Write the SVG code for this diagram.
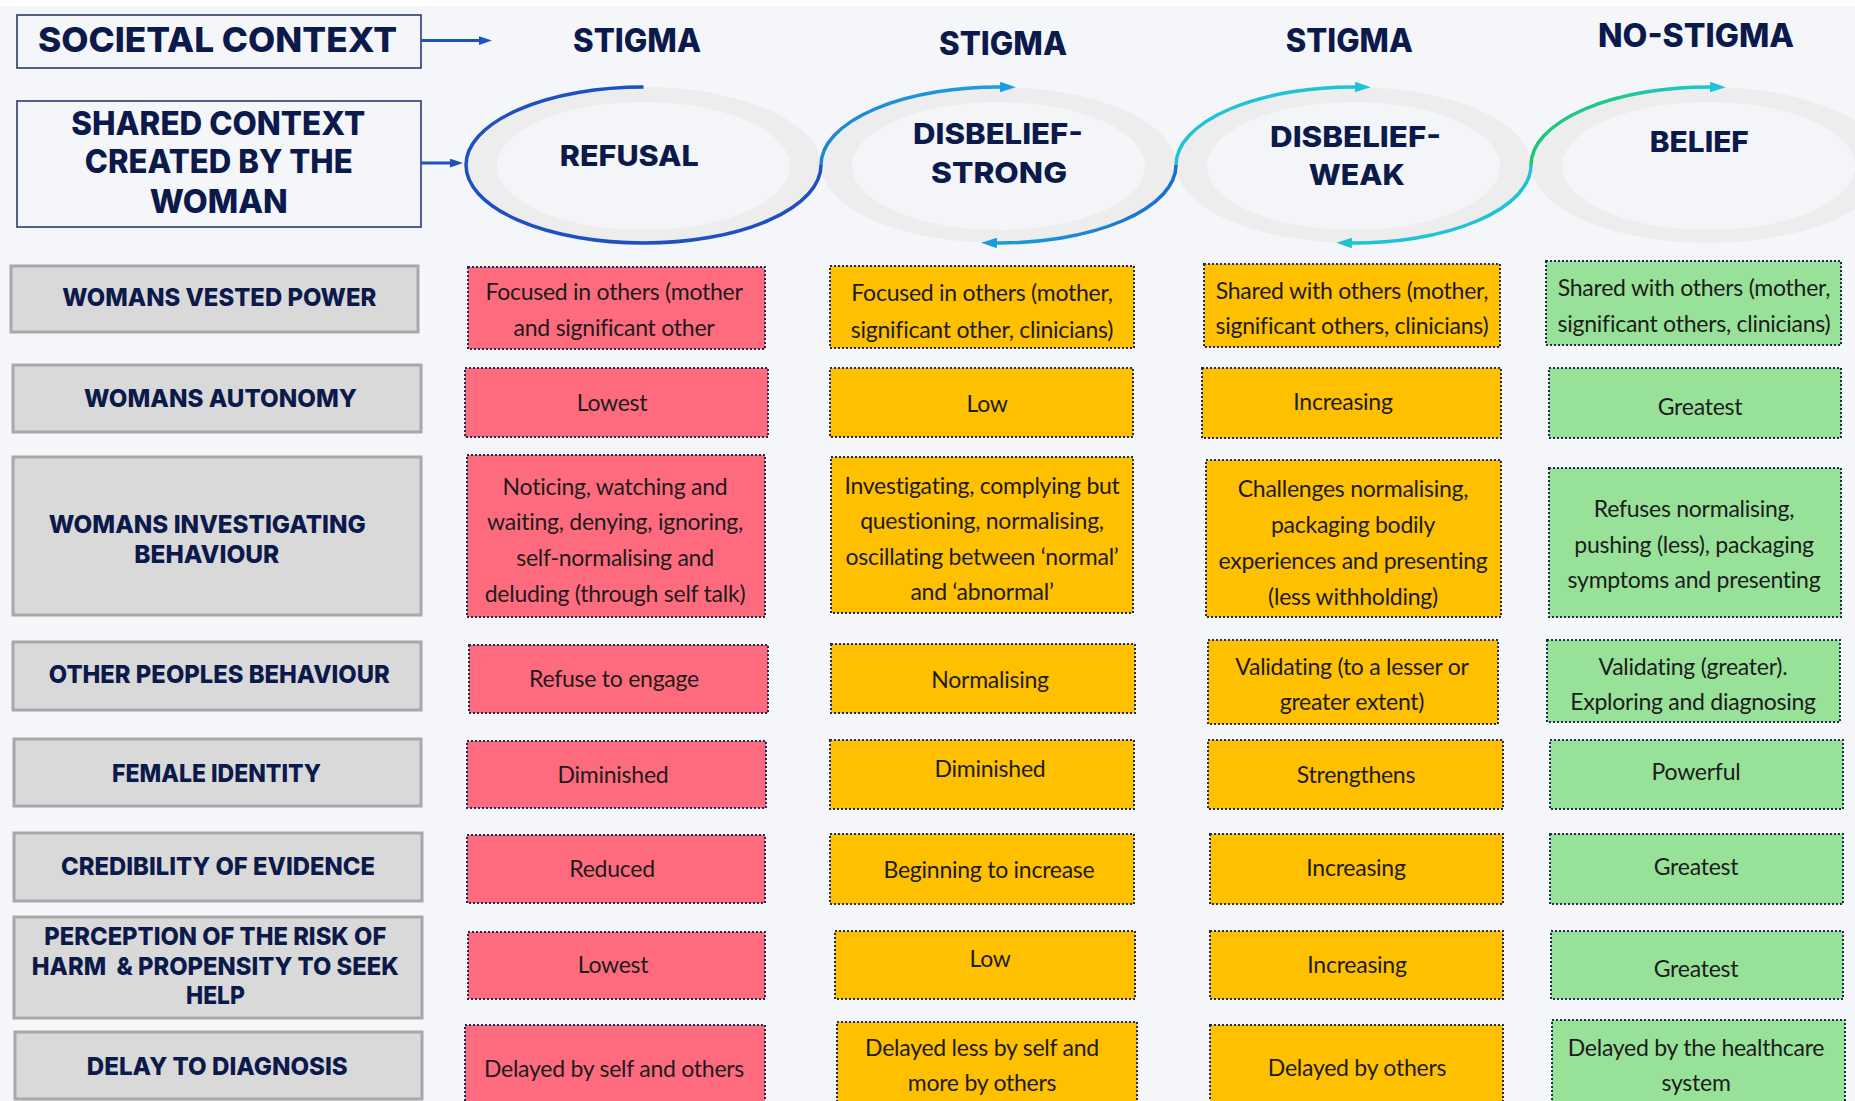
<svg xmlns="http://www.w3.org/2000/svg" width="1855" height="1101" viewBox="0 0 1855 1101">
<defs>
<style>
.hd{font-family:Inter,"Noto Sans",sans-serif;font-weight:800;fill:#0c1a4b;text-anchor:middle}
.lb{font-family:Inter,"Noto Sans",sans-serif;font-weight:800;fill:#0c1a4b;text-anchor:middle;font-size:25px}
.ct{font-family:Lato,"Liberation Sans",sans-serif;font-size:23px;letter-spacing:-0.25px;fill:#1c1c1c;text-anchor:middle}
.hbox{fill:none;stroke:#2d3b6b;stroke-width:1.6}
.lbox{fill:#d9d9d9;stroke:#a8a8a8;stroke-width:3}
.cell{stroke:#1f2a55;stroke-width:2;stroke-dasharray:2 2}
.red{fill:#ff6b7e}.amb{fill:#ffc000}.grn{fill:#98e198}
.arc{fill:none;stroke-width:3.5}
.ring{fill:#ededed}.hole{fill:#f4f5f8}
</style>
<marker id="mDark" viewBox="0 0 12 8" refX="3" refY="4" markerWidth="4.5" markerHeight="3" orient="auto"><path d="M0,0 L12,4 L0,8 z" fill="#1d52c4"/></marker>
<marker id="mBlue" viewBox="0 0 12 8" refX="3" refY="4" markerWidth="4.5" markerHeight="3" orient="auto"><path d="M0,0 L12,4 L0,8 z" fill="#1b9ce0"/></marker>
<marker id="mCyan" viewBox="0 0 12 8" refX="3" refY="4" markerWidth="4.5" markerHeight="3" orient="auto"><path d="M0,0 L12,4 L0,8 z" fill="#1fc3d6"/></marker>
<linearGradient id="gA2" gradientUnits="userSpaceOnUse" x1="821" y1="0" x2="1004" y2="0"><stop offset="0" stop-color="#1c86d6"/><stop offset="1" stop-color="#1ba0e0"/></linearGradient>
<linearGradient id="gB" gradientUnits="userSpaceOnUse" x1="1176" y1="0" x2="992" y2="0"><stop offset="0" stop-color="#1a6ecf"/><stop offset="1" stop-color="#1aa0df"/></linearGradient>
<linearGradient id="gC2" gradientUnits="userSpaceOnUse" x1="1531" y1="0" x2="1714" y2="0"><stop offset="0" stop-color="#1ec86f"/><stop offset="0.6" stop-color="#1ec8a2"/><stop offset="1" stop-color="#1fc3d4"/></linearGradient>
</defs>

<rect width="1855" height="1101" fill="#f4f6fa"/>
<rect width="1855" height="6" fill="#ffffff"/>

<!-- context boxes -->
<g id="societal-context">
<rect class="hbox" x="17" y="15" width="404" height="53"/>
<text class="hd" x="217.5" y="51.7" font-size="34" textLength="359" lengthAdjust="spacingAndGlyphs">SOCIETAL CONTEXT</text>
</g>
<g id="shared-context">
<rect class="hbox" x="17" y="101" width="404" height="126"/>
<text class="hd" x="218.2" y="135" font-size="32.5" textLength="294" lengthAdjust="spacingAndGlyphs">SHARED CONTEXT</text>
<text class="hd" x="218.7" y="173" font-size="32.5" textLength="268" lengthAdjust="spacingAndGlyphs">CREATED BY THE</text>
<text class="hd" x="218.8" y="213" font-size="32.5" textLength="138" lengthAdjust="spacingAndGlyphs">WOMAN</text>
</g>

<!-- column headings -->
<g id="headings">
<text class="hd" x="637" y="51.7" font-size="32" textLength="128" lengthAdjust="spacingAndGlyphs">STIGMA</text>
<text class="hd" x="1003" y="55" font-size="32" textLength="128" lengthAdjust="spacingAndGlyphs">STIGMA</text>
<text class="hd" x="1349.3" y="51.7" font-size="32" textLength="127" lengthAdjust="spacingAndGlyphs">STIGMA</text>
<text class="hd" x="1696" y="46.7" font-size="32" textLength="196" lengthAdjust="spacingAndGlyphs">NO-STIGMA</text>
</g>

<!-- stage rings -->
<g id="stage-refusal">
<ellipse class="ring" cx="643.5" cy="165" rx="177.5" ry="78"/>
<ellipse class="hole" cx="643.5" cy="166" rx="146.5" ry="64"/>
<text class="hd" x="629.3" y="165.7" font-size="29" textLength="139" lengthAdjust="spacingAndGlyphs">REFUSAL</text>
</g>
<g id="stage-disbelief-strong">
<ellipse class="ring" cx="998.5" cy="165" rx="177.5" ry="78"/>
<ellipse class="hole" cx="998.5" cy="166" rx="146.5" ry="64"/>
<text class="hd" x="998" y="144" font-size="29" textLength="170" lengthAdjust="spacingAndGlyphs">DISBELIEF-</text>
<text class="hd" x="999" y="182.7" font-size="29" textLength="136" lengthAdjust="spacingAndGlyphs">STRONG</text>
</g>
<g id="stage-disbelief-weak">
<ellipse class="ring" cx="1353.5" cy="165" rx="177.5" ry="78"/>
<ellipse class="hole" cx="1353.5" cy="166" rx="146.5" ry="64"/>
<text class="hd" x="1355.5" y="146.7" font-size="29" textLength="171" lengthAdjust="spacingAndGlyphs">DISBELIEF-</text>
<text class="hd" x="1356.8" y="185" font-size="29" textLength="96" lengthAdjust="spacingAndGlyphs">WEAK</text>
</g>
<g id="stage-belief">
<ellipse class="ring" cx="1708.5" cy="165" rx="177.5" ry="78"/>
<ellipse class="hole" cx="1708.5" cy="166" rx="146.5" ry="64"/>
<text class="hd" x="1699.3" y="151.7" font-size="29" textLength="99" lengthAdjust="spacingAndGlyphs">BELIEF</text>
</g>

<!-- connectors -->
<g id="connectors">
<line x1="421" y1="40.5" x2="482" y2="40.5" stroke="#1d52c4" stroke-width="3" marker-end="url(#mDark)"/>
<line x1="421" y1="163" x2="453" y2="163" stroke="#1d52c4" stroke-width="3" marker-end="url(#mDark)"/>
<path class="arc" stroke="#1d50c2" d="M643.5,87 A177.5,78 0 1 0 821,165"/>
<path class="arc" stroke="url(#gA2)" d="M821,165 A177.5,78 0 0 1 1004,87.04" marker-end="url(#mBlue)"/>
<path class="arc" stroke="url(#gB)" d="M1176,165 A177.5,78 0 0 1 993,242.96" marker-end="url(#mBlue)"/>
<path class="arc" stroke="#1fc3d6" d="M1176,165 A177.5,78 0 0 1 1359,87.04" marker-end="url(#mCyan)"/>
<path class="arc" stroke="#1fc3d6" d="M1531,165 A177.5,78 0 0 1 1348,242.96" marker-end="url(#mCyan)"/>
<path class="arc" stroke="url(#gC2)" d="M1531,165 A177.5,78 0 0 1 1714,87.04" marker-end="url(#mCyan)"/>
</g>

<!-- row labels -->
<g id="label-vested-power"><rect class="lbox" x="11" y="266" width="407" height="66"/>
<text class="lb" x="219.3" y="306" textLength="314" lengthAdjust="spacingAndGlyphs">WOMANS VESTED POWER</text></g>
<g id="label-autonomy"><rect class="lbox" x="13" y="365" width="408" height="67"/>
<text class="lb" x="220.5" y="406.7" textLength="273" lengthAdjust="spacingAndGlyphs">WOMANS AUTONOMY</text></g>
<g id="label-investigating"><rect class="lbox" x="13" y="457" width="408" height="158"/>
<text class="lb" x="207.3" y="533" textLength="317" lengthAdjust="spacingAndGlyphs">WOMANS INVESTIGATING</text>
<text class="lb" x="206.8" y="563" textLength="145" lengthAdjust="spacingAndGlyphs">BEHAVIOUR</text></g>
<g id="label-other-peoples"><rect class="lbox" x="13" y="642" width="408" height="68"/>
<text class="lb" x="219.3" y="683" textLength="341" lengthAdjust="spacingAndGlyphs">OTHER PEOPLES BEHAVIOUR</text></g>
<g id="label-female-identity"><rect class="lbox" x="14" y="739" width="407" height="67"/>
<text class="lb" x="216.5" y="781.7" textLength="209" lengthAdjust="spacingAndGlyphs">FEMALE IDENTITY</text></g>
<g id="label-credibility"><rect class="lbox" x="14" y="833" width="408" height="68"/>
<text class="lb" x="218" y="875" textLength="314" lengthAdjust="spacingAndGlyphs">CREDIBILITY OF EVIDENCE</text></g>
<g id="label-risk"><rect class="lbox" x="14" y="917" width="408" height="101"/>
<text class="lb" x="215.3" y="945" textLength="342" lengthAdjust="spacingAndGlyphs">PERCEPTION OF THE RISK OF</text>
<text class="lb" x="215.3" y="975" textLength="367" lengthAdjust="spacingAndGlyphs" xml:space="preserve">HARM  &amp; PROPENSITY TO SEEK</text>
<text class="lb" x="215.5" y="1004" textLength="59" lengthAdjust="spacingAndGlyphs">HELP</text></g>
<g id="label-delay"><rect class="lbox" x="15" y="1032" width="407" height="67"/>
<text class="lb" x="217.3" y="1075" textLength="261" lengthAdjust="spacingAndGlyphs">DELAY TO DIAGNOSIS</text></g>

<!-- refusal column -->
<g id="refusal-cells">
<g id="r1c1"><rect class="cell red" x="468" y="267" width="297" height="82"/><text class="ct" x="614" y="299.5">Focused in others (mother</text><text class="ct" x="614" y="336">and significant other</text></g>
<g id="r2c1"><rect class="cell red" x="465" y="368" width="303" height="69"/><text class="ct" x="612" y="410.5">Lowest</text></g>
<g id="r3c1"><rect class="cell red" x="467" y="455" width="298" height="162"/><text class="ct" x="615" y="494.7">Noticing, watching and</text><text class="ct" x="615" y="530.2">waiting, denying, ignoring,</text><text class="ct" x="615" y="565.7">self-normalising and</text><text class="ct" x="615" y="602.4">deluding (through self talk)</text></g>
<g id="r4c1"><rect class="cell red" x="469" y="645" width="299" height="68"/><text class="ct" x="614" y="686.5">Refuse to engage</text></g>
<g id="r5c1"><rect class="cell red" x="467" y="741" width="299" height="67"/><text class="ct" x="613" y="782.5">Diminished</text></g>
<g id="r6c1"><rect class="cell red" x="467" y="835" width="298" height="68"/><text class="ct" x="612" y="876.5">Reduced</text></g>
<g id="r7c1"><rect class="cell red" x="468" y="932" width="297" height="67"/><text class="ct" x="613" y="972.5">Lowest</text></g>
<g id="r8c1"><rect class="cell red" x="465" y="1025" width="300" height="90"/><text class="ct" x="614" y="1076.5">Delayed by self and others</text></g>
</g>

<!-- disbelief strong column -->
<g id="strong-cells">
<g id="r1c2"><rect class="cell amb" x="830" y="266" width="304" height="82"/><text class="ct" x="982" y="300.5">Focused in others (mother,</text><text class="ct" x="982" y="337.5">significant other, clinicians)</text></g>
<g id="r2c2"><rect class="cell amb" x="830" y="368" width="303" height="69"/><text class="ct" x="987" y="411.5">Low</text></g>
<g id="r3c2"><rect class="cell amb" x="831" y="457" width="302" height="156"/><text class="ct" x="982" y="493.5">Investigating, complying but</text><text class="ct" x="982" y="529">questioning, normalising,</text><text class="ct" x="982" y="564.5">oscillating between ‘normal’</text><text class="ct" x="982" y="600">and ‘abnormal’</text></g>
<g id="r4c2"><rect class="cell amb" x="831" y="644" width="304" height="69"/><text class="ct" x="990" y="687.5">Normalising</text></g>
<g id="r5c2"><rect class="cell amb" x="830" y="740" width="304" height="69"/><text class="ct" x="990" y="776.5">Diminished</text></g>
<g id="r6c2"><rect class="cell amb" x="830" y="834" width="304" height="70"/><text class="ct" x="989" y="878">Beginning to increase</text></g>
<g id="r7c2"><rect class="cell amb" x="835" y="931" width="300" height="68"/><text class="ct" x="990" y="966.5">Low</text></g>
<g id="r8c2"><rect class="cell amb" x="837" y="1022" width="300" height="90"/><text class="ct" x="982" y="1055.5">Delayed less by self and</text><text class="ct" x="982" y="1091">more by others</text></g>
</g>

<!-- disbelief weak column -->
<g id="weak-cells">
<g id="r1c3"><rect class="cell amb" x="1204" y="264" width="296" height="83"/><text class="ct" x="1352" y="298.5">Shared with others (mother,</text><text class="ct" x="1352" y="333.5">significant others, clinicians)</text></g>
<g id="r2c3"><rect class="cell amb" x="1202" y="368" width="299" height="70"/><text class="ct" x="1343" y="409.5">Increasing</text></g>
<g id="r3c3"><rect class="cell amb" x="1206" y="460" width="295" height="157"/><text class="ct" x="1353" y="497">Challenges normalising,</text><text class="ct" x="1353" y="532.5">packaging bodily</text><text class="ct" x="1353" y="569">experiences and presenting</text><text class="ct" x="1353" y="604.7">(less withholding)</text></g>
<g id="r4c3"><rect class="cell amb" x="1208" y="640" width="290" height="84"/><text class="ct" x="1352" y="674.5">Validating (to a lesser or</text><text class="ct" x="1352" y="710">greater extent)</text></g>
<g id="r5c3"><rect class="cell amb" x="1208" y="740" width="295" height="69"/><text class="ct" x="1356" y="782.5">Strengthens</text></g>
<g id="r6c3"><rect class="cell amb" x="1210" y="834" width="293" height="70"/><text class="ct" x="1356" y="875.5">Increasing</text></g>
<g id="r7c3"><rect class="cell amb" x="1210" y="931" width="293" height="68"/><text class="ct" x="1357" y="972.5">Increasing</text></g>
<g id="r8c3"><rect class="cell amb" x="1210" y="1025" width="293" height="90"/><text class="ct" x="1357" y="1075.5">Delayed by others</text></g>
</g>

<!-- belief column -->
<g id="belief-cells">
<g id="r1c4"><rect class="cell grn" x="1546" y="261" width="295" height="84"/><text class="ct" x="1694" y="296">Shared with others (mother,</text><text class="ct" x="1694" y="331.5">significant others, clinicians)</text></g>
<g id="r2c4"><rect class="cell grn" x="1549" y="368" width="292" height="70"/><text class="ct" x="1700" y="414.5">Greatest</text></g>
<g id="r3c4"><rect class="cell grn" x="1549" y="468" width="292" height="149"/><text class="ct" x="1694" y="517">Refuses normalising,</text><text class="ct" x="1694" y="552.7">pushing (less), packaging</text><text class="ct" x="1694" y="588.2">symptoms and presenting</text></g>
<g id="r4c4"><rect class="cell grn" x="1547" y="640" width="293" height="82"/><text class="ct" x="1693" y="674.5">Validating (greater).</text><text class="ct" x="1693" y="710">Exploring and diagnosing</text></g>
<g id="r5c4"><rect class="cell grn" x="1550" y="740" width="293" height="69"/><text class="ct" x="1696" y="779.5">Powerful</text></g>
<g id="r6c4"><rect class="cell grn" x="1550" y="834" width="293" height="70"/><text class="ct" x="1696" y="874.5">Greatest</text></g>
<g id="r7c4"><rect class="cell grn" x="1551" y="931" width="292" height="68"/><text class="ct" x="1696" y="976.5">Greatest</text></g>
<g id="r8c4"><rect class="cell grn" x="1552" y="1020" width="293" height="95"/><text class="ct" x="1696" y="1055.5">Delayed by the healthcare</text><text class="ct" x="1696" y="1091">system</text></g>
</g>
</svg>
